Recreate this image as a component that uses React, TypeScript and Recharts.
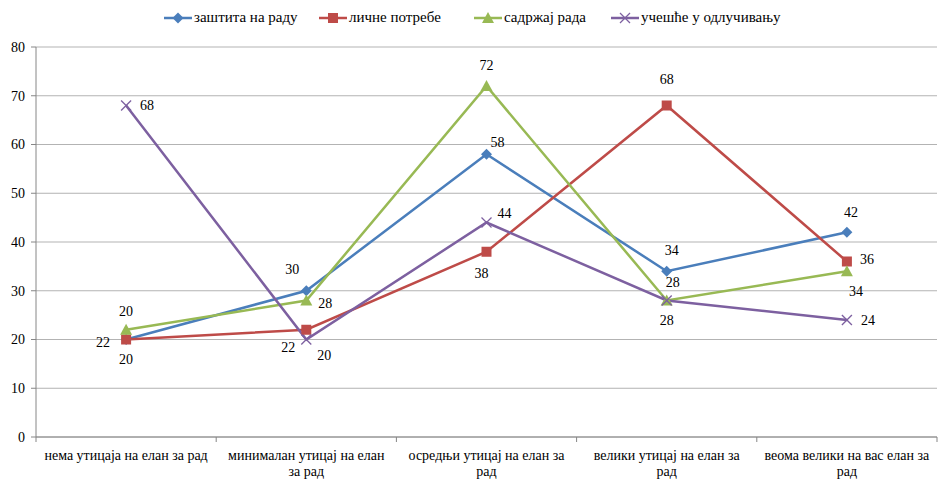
import React from "react";
import { LineChart, Line, XAxis, YAxis, CartesianGrid } from "recharts";

// "\n" marks where the original axis label breaks onto a second line
const categories = [
  "нема утицаја на елан за рад",
  "минималан утицај на елан\nза рад",
  "осредњи утицај на елан за\nрад",
  "велики утицај на елан за\nрад",
  "веома велики на вас елан за\nрад",
];
const seriesNames = ["заштита на раду", "личне потребе", "садржај рада", "учешће у одлучивању"];
const zastita = [20, 30, 58, 34, 42];
const licne = [20, 22, 38, 68, 36];
const sadrzaj = [22, 28, 72, 28, 34];
const ucesce = [68, 20, 44, 28, 24];
const yTicks = [0, 10, 20, 30, 40, 50, 60, 70, 80];

const data = categories.map((name, i) => ({
  name,
  zastita: zastita[i],
  licne: licne[i],
  sadrzaj: sadrzaj[i],
  ucesce: ucesce[i],
}));

const FONT = "Liberation Serif";
const COLORS = ["#4A7EBB", "#BE4B48", "#98B954", "#7D60A0"];
const KEYS = ["zastita", "licne", "sadrzaj", "ucesce"];
const SHAPES = ["diamond", "square", "triangle", "cross"];
const BAND = 180.2;
const legendWidths = [155, 155, 137, 200];

// where each value label sits relative to its marker (hand placed in the original)
const labelOffsets: [number, number][][] = [
  [[0, -28], [-14, -21], [11, -12], [5, -21], [4, -20]],
  [[0, 20], [-18, 18], [-5, 22], [0, -26], [20, -2]],
  [[-23, 13], [19, 3], [0, -21], [6, -18], [9, 20]],
  [[21, 0], [18, 16], [18, -9], [0, 20], [21, 0]],
];

function Marker({ shape, cx, cy, color }: any) {
  if (cx == null || cy == null) return null;
  const s = 5.5;
  if (shape === "diamond")
    return <polygon points={`${cx},${cy - s} ${cx + s},${cy} ${cx},${cy + s} ${cx - s},${cy}`} fill={color} />;
  if (shape === "square")
    return <rect x={cx - 5} y={cy - 5} width={10} height={10} fill={color} />;
  if (shape === "triangle")
    return <polygon points={`${cx},${cy - 6} ${cx + 6},${cy + 5} ${cx - 6},${cy + 5}`} fill={color} />;
  return (
    <g stroke={color} strokeWidth={1.3}>
      <line x1={cx - 5} y1={cy - 5} x2={cx + 5} y2={cy + 5} />
      <line x1={cx - 5} y1={cy + 5} x2={cx + 5} y2={cy - 5} />
    </g>
  );
}

function XTick({ x, y, payload, index }: any) {
  const lines = String(payload.value).split("\n");
  return (
    <g>
      <line x1={x - BAND / 2} y1={y - 8} x2={x - BAND / 2} y2={y - 3} stroke="#868686" />
      {index === categories.length - 1 && (
        <line x1={x + BAND / 2} y1={y - 8} x2={x + BAND / 2} y2={y - 3} stroke="#868686" />
      )}
      <text x={x} y={y + 15} textAnchor="middle" fontSize={14} fontFamily={FONT} fill="#000">
        {lines.map((l, j) => (
          <tspan key={j} x={x} dy={j === 0 ? 0 : 16}>
            {l}
          </tspan>
        ))}
      </text>
    </g>
  );
}

function makeLabel(si: number) {
  return (props: any) => {
    const { x, y, value, index } = props;
    const [dx, dy] = labelOffsets[si][index];
    return (
      <text
        key={`l-${si}-${index}`}
        x={x + dx}
        y={y + dy}
        textAnchor="middle"
        dominantBaseline="central"
        fontSize={14}
        fontFamily={FONT}
        fill="#000"
      >
        {value}
      </text>
    );
  };
}

function LegendIcon({ i }: { i: number }) {
  return (
    <svg width={28} height={14} style={{ display: "block" }}>
      <line x1={0} y1={7} x2={28} y2={7} stroke={COLORS[i]} strokeWidth={2.5} />
      <Marker shape={SHAPES[i]} cx={14} cy={7} color={COLORS[i]} />
    </svg>
  );
}

export default function App() {
  return (
    <div style={{ position: "absolute", left: 0, top: 0, width: 939, height: 479, background: "#fff", fontFamily: FONT }}>
      <div
        style={{
          position: "absolute",
          top: 9,
          left: 164,
          display: "flex",
          alignItems: "center",
          fontSize: 15,
          color: "#000",
          whiteSpace: "nowrap",
        }}
      >
        {seriesNames.map((n, i) => (
          <div key={n} style={{ display: "flex", alignItems: "center", width: legendWidths[i] }}>
            <LegendIcon i={i} />
            <span style={{ marginLeft: 2 }}>{n}</span>
          </div>
        ))}
      </div>
      <LineChart width={939} height={479} data={data} margin={{ top: 47, right: 2, left: 0, bottom: 0 }}>
        <CartesianGrid vertical={false} stroke="#B3B3B3" />
        <XAxis
          dataKey="name"
          height={42}
          interval={0}
          padding={{ left: BAND / 2, right: BAND / 2 }}
          tickLine={false}
          axisLine={{ stroke: "#868686" }}
          tick={<XTick />}
        />
        <YAxis
          width={36}
          domain={[0, 80]}
          ticks={yTicks}
          interval={0}
          tickSize={5}
          tickMargin={6}
          axisLine={{ stroke: "#868686" }}
          tickLine={{ stroke: "#868686" }}
          tick={{ fontSize: 14, fontFamily: FONT, fill: "#000" }}
        />
        {KEYS.map((k, i) => (
          <Line
            key={k}
            dataKey={k}
            name={seriesNames[i]}
            stroke={COLORS[i]}
            strokeWidth={2.5}
            isAnimationActive={false}
            dot={(p: any) => <Marker key={`d-${k}-${p.index}`} shape={SHAPES[i]} cx={p.cx} cy={p.cy} color={COLORS[i]} />}
            activeDot={false}
            label={makeLabel(i)}
          />
        ))}
      </LineChart>
    </div>
  );
}
